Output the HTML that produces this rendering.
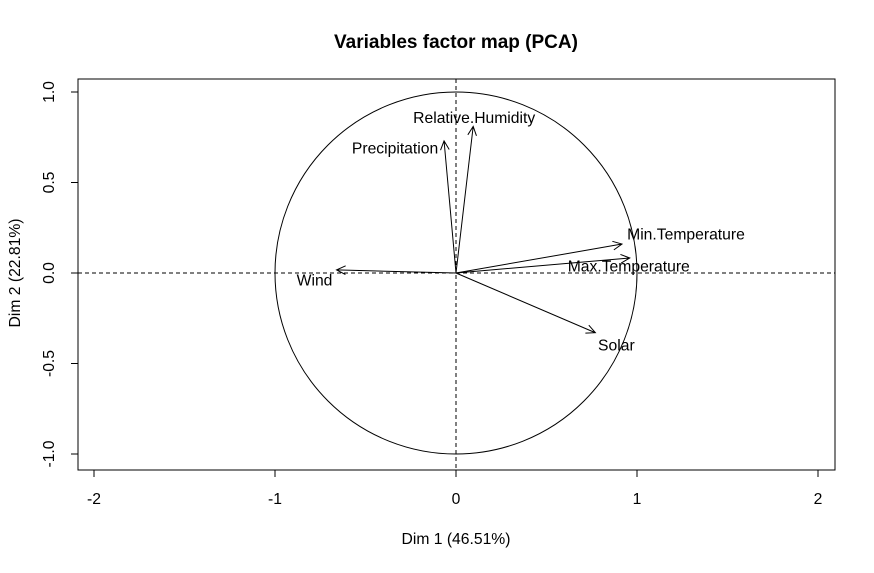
<!DOCTYPE html>
<html><head><meta charset="utf-8"><style>
html,body{margin:0;padding:0;background:#fff;}
svg text{font-family:"Liberation Sans",Arial,sans-serif;}
</style></head><body>
<svg id="chart" width="874" height="568" xmlns="http://www.w3.org/2000/svg">
<text x="456" y="48" text-anchor="middle" font-size="19" font-weight="bold">Variables factor map (PCA)</text>
<rect x="78" y="79" width="757" height="391" fill="none" stroke="#000" stroke-width="1"/>
<g id="axes"></g>
<g id="marks"></g>
<text x="456" y="544" text-anchor="middle" font-size="15.7">Dim 1 (46.51%)</text>
<text transform="translate(20,273) rotate(-90)" text-anchor="middle" font-size="15.7">Dim 2 (22.81%)</text>
</svg>
<script>
const variables=["Relative.Humidity","Precipitation","Min.Temperature","Max.Temperature","Solar","Wind"];
const dim1=[0.095,-0.066,0.917,0.96,0.77,-0.66];
const dim2=[0.81,0.73,0.16,0.083,-0.33,0.017];
const xTicks=[-2,-1,0,1,2];
const yTicks=[-1.0,-0.5,0.0,0.5,1.0];
const labelDx=[1,-49,64,-1,21,-22];
const labelDy=[-9,7,-10,8,12,10];
const NS="http://www.w3.org/2000/svg";
const sx=v=>456+v*181, sy=v=>273-v*181;
function mk(t,a,p){const e=document.createElementNS(NS,t);for(const k in a)e.setAttribute(k,a[k]);p.appendChild(e);return e;}
const ax=document.getElementById('axes'), mg=document.getElementById('marks');
xTicks.forEach(t=>{
 const l=mk('line',{x1:sx(t),x2:sx(t),y1:470,y2:477,stroke:'#000'},ax);
 
 
 const tx=mk('text',{x:sx(t),y:504,'text-anchor':'middle','font-size':15.7},ax);tx.textContent=t;
 
 
});
yTicks.forEach(t=>{
 const l=mk('line',{x1:71,x2:78,y1:sy(t),y2:sy(t),stroke:'#000'},ax);
 
 
 const tx=mk('text',{transform:`translate(54,${sy(t)}) rotate(-90)`,'text-anchor':'middle','font-size':15.7},ax);tx.textContent=t.toFixed(1);
 
 
});
const c=mk('circle',{cx:sx(0),cy:sy(0),r:181,fill:'none',stroke:'#000'},mg);


const h=mk('line',{x1:78,x2:835,y1:sy(0),y2:sy(0),stroke:'#000','stroke-dasharray':'4,3'},mg);


const v=mk('line',{x1:sx(0),x2:sx(0),y1:79,y2:470,stroke:'#000','stroke-dasharray':'4,3'},mg);


variables.forEach((name,i)=>{
 const x0=sx(0),y0=sy(0),x1=sx(dim1[i]),y1=sy(dim2[i]);
 const ang=Math.atan2(y1-y0,x1-x0),L=10,w=0.45;
 const d=`M${x0},${y0}L${x1},${y1}M${x1-L*Math.cos(ang-w)},${y1-L*Math.sin(ang-w)}L${x1},${y1}L${x1-L*Math.cos(ang+w)},${y1-L*Math.sin(ang+w)}`;
 const p=mk('path',{d:d,fill:'none',stroke:'#000','stroke-width':1},mg);
 
 
 const t=mk('text',{x:x1+labelDx[i],y:y1+labelDy[i]+5.6,'text-anchor':'middle','font-size':15.7},mg);
 t.textContent=name;
 
 
});
</script>
</body></html>
